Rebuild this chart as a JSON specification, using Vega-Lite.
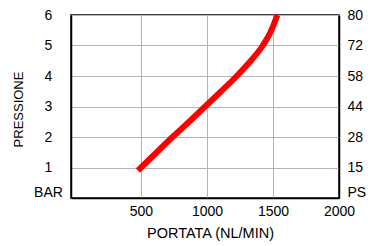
{
  "$schema": "https://vega.github.io/schema/vega-lite/v6.json",
  "autosize": {"type": "none"},
  "padding": {"left": 71, "top": 15, "right": 29, "bottom": 48},
  "width": 268,
  "height": 183,
  "background": "white",
  "config": {
    "view": {"stroke": "black", "strokeWidth": 1.5},
    "font": "Liberation Sans",
    "axis": {
      "labelFont": "Liberation Sans",
      "titleFont": "Liberation Sans",
      "labelColor": "black",
      "titleColor": "black",
      "labelFontSize": 14,
      "titleFontSize": 14.5,
      "titleFontWeight": "normal",
      "domainColor": "black",
      "domainWidth": 1.5,
      "gridColor": "#b4b4b4",
      "gridWidth": 1,
      "gridOpacity": 1,
      "ticks": false,
      "labelFlush": false,
      "labelOverlap": false
    }
  },
  "data": {
    "values": [
      {"portata": 477, "pressione": 0.9},
      {"portata": 620, "pressione": 1.5},
      {"portata": 739, "pressione": 2.0},
      {"portata": 865, "pressione": 2.5},
      {"portata": 986, "pressione": 3.0},
      {"portata": 1108, "pressione": 3.5},
      {"portata": 1226, "pressione": 4.0},
      {"portata": 1332, "pressione": 4.5},
      {"portata": 1423, "pressione": 5.0},
      {"portata": 1488, "pressione": 5.5},
      {"portata": 1533, "pressione": 6.0}
    ]
  },
  "layer": [
    {
      "mark": {"type": "line", "color": "#ff0000", "strokeWidth": 6, "interpolate": "monotone", "strokeCap": "butt"},
      "encoding": {
        "x": {
          "field": "portata", "type": "quantitative",
          "scale": {"domain": [-30, 2000], "nice": false, "zero": false},
          "axis": {
            "title": "PORTATA (NL/MIN)",
            "values": [500, 1000, 1500, 2000],
            "format": "d",
            "labelPadding": 6,
            "titleX": 139,
            "titleY": 35,
            "titleBaseline": "middle",
            "titleAnchor": "start",
            "titleAlign": "center"
          }
        },
        "y": {
          "field": "pressione", "type": "quantitative",
          "scale": {"domain": [0, 6], "nice": false},
          "axis": {
            "orient": "left",
            "title": "PRESSIONE",
            "titleFontSize": 13,
            "values": [0, 1, 2, 3, 4, 5, 6],
            "labelExpr": "datum.value == 0 ? 'BAR' : datum.label",
            "labelAlign": "center",
            "labelBaseline": "middle",
            "labelPadding": 23,
            "labelOffset": {"condition": {"test": "datum.value == 0", "value": -6}, "value": 0},
            "titleX": -53,
            "titleY": 94,
            "titleBaseline": "middle",
            "titleAlign": "center",
            "titleAngle": -90
          }
        }
      }
    },
    {
      "mark": {"type": "line", "opacity": 0},
      "encoding": {
        "x": {"field": "portata", "type": "quantitative"},
        "y": {
          "field": "pressione", "type": "quantitative",
          "axis": {
            "orient": "right",
            "title": null,
            "grid": false,
            "values": [0, 1, 2, 3, 4, 5, 6],
            "labelExpr": "['PS','15','28','44','58','72','80'][datum.value]",
            "labelAlign": "left",
            "labelBaseline": "middle",
            "labelPadding": 8,
            "labelOffset": {"condition": {"test": "datum.value == 0", "value": -6}, "value": 0}
          }
        }
      }
    }
  ],
  "resolve": {"axis": {"y": "independent"}}
}
